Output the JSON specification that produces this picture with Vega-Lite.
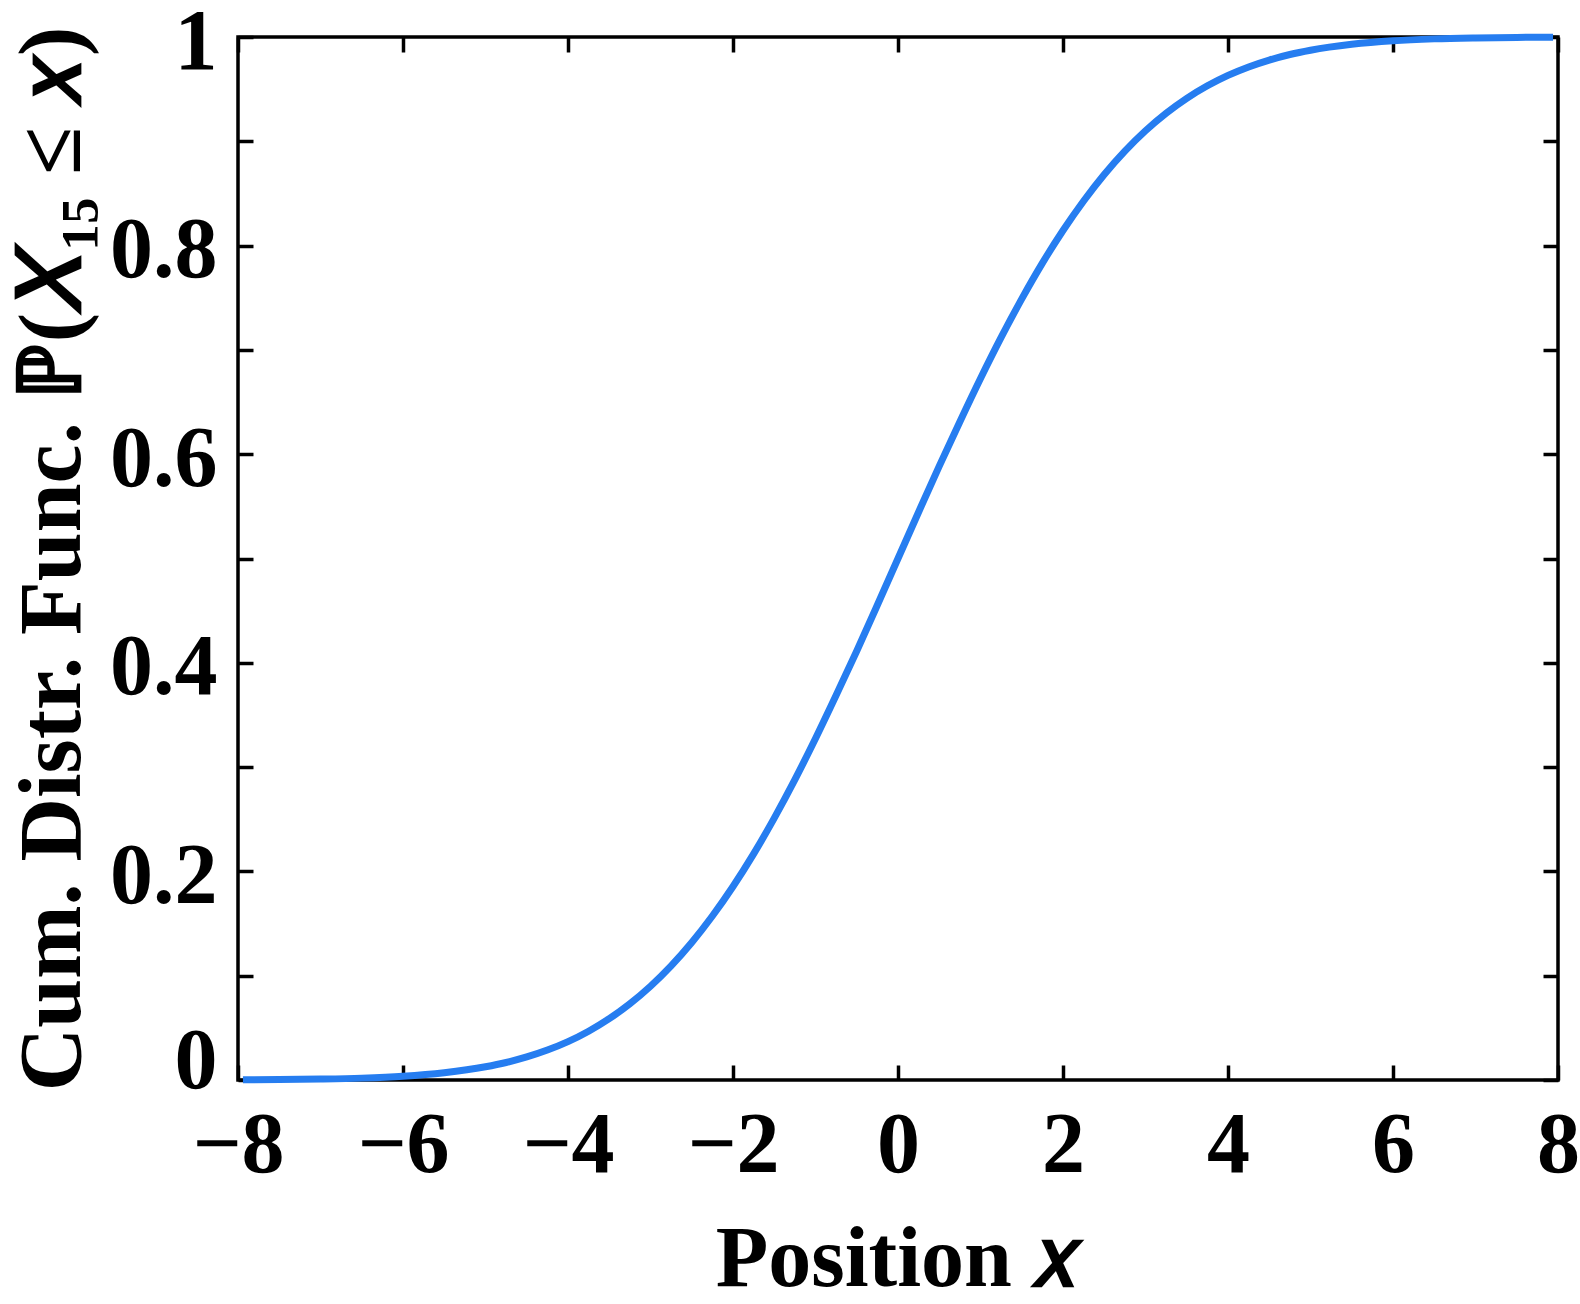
{
  "$schema": "https://vega.github.io/schema/vega-lite/v6.json",
  "width": 1320,
  "height": 1043,
  "autosize": {"type": "none"},
  "padding": {"left": 238, "top": 37, "right": 22, "bottom": 224},
  "background": "white",
  "config": {
    "view": {"stroke": "black", "strokeWidth": 3.5},
    "axis": {
      "domain": false,
      "grid": false,
      "tickColor": "black",
      "tickWidth": 3.5,
      "tickSize": -15,
      "labelColor": "black",
      "titleColor": "black",
      "labelFont": "Liberation Serif",
      "titleFont": "Liberation Serif, DejaVu Serif"
    }
  },
  "data": {
    "values": [
      {"x": -7.94, "p": 0.0002},
      {"x": -7.5, "p": 0.0004},
      {"x": -7, "p": 0.0009},
      {"x": -6.5, "p": 0.0018},
      {"x": -6, "p": 0.0036},
      {"x": -5.5, "p": 0.0070},
      {"x": -5, "p": 0.0127},
      {"x": -4.75, "p": 0.0168},
      {"x": -4.5, "p": 0.0221},
      {"x": -4.25, "p": 0.0287},
      {"x": -4, "p": 0.0368},
      {"x": -3.75, "p": 0.0468},
      {"x": -3.5, "p": 0.0588},
      {"x": -3.25, "p": 0.0731},
      {"x": -3, "p": 0.0899},
      {"x": -2.75, "p": 0.1094},
      {"x": -2.5, "p": 0.1318},
      {"x": -2.25, "p": 0.1572},
      {"x": -2, "p": 0.1855},
      {"x": -1.75, "p": 0.2168},
      {"x": -1.5, "p": 0.2511},
      {"x": -1.25, "p": 0.2880},
      {"x": -1, "p": 0.3274},
      {"x": -0.75, "p": 0.3688},
      {"x": -0.5, "p": 0.4114},
      {"x": -0.25, "p": 0.4554},
      {"x": 0, "p": 0.5},
      {"x": 0.25, "p": 0.5446},
      {"x": 0.5, "p": 0.5886},
      {"x": 0.75, "p": 0.6312},
      {"x": 1, "p": 0.6726},
      {"x": 1.25, "p": 0.7120},
      {"x": 1.5, "p": 0.7489},
      {"x": 1.75, "p": 0.7832},
      {"x": 2, "p": 0.8145},
      {"x": 2.25, "p": 0.8428},
      {"x": 2.5, "p": 0.8682},
      {"x": 2.75, "p": 0.8906},
      {"x": 3, "p": 0.9101},
      {"x": 3.25, "p": 0.9269},
      {"x": 3.5, "p": 0.9412},
      {"x": 3.75, "p": 0.9532},
      {"x": 4, "p": 0.9632},
      {"x": 4.25, "p": 0.9713},
      {"x": 4.5, "p": 0.9779},
      {"x": 4.75, "p": 0.9832},
      {"x": 5, "p": 0.9873},
      {"x": 5.5, "p": 0.9930},
      {"x": 6, "p": 0.9964},
      {"x": 6.5, "p": 0.9982},
      {"x": 7, "p": 0.9991},
      {"x": 7.5, "p": 0.9996},
      {"x": 7.94, "p": 0.9998}
    ]
  },
  "resolve": {"axis": {"x": "independent", "y": "independent"}},
  "layer": [
    {
      "mark": {"type": "line", "strokeOpacity": 0},
      "encoding": {
        "x": {
          "field": "x", "type": "quantitative",
          "scale": {"domain": [-8, 8], "nice": false, "zero": false},
          "axis": {"orient": "top", "values": [-8, -6, -4, -2, 0, 2, 4, 6, 8], "labels": false, "title": null}
        },
        "y": {
          "field": "p", "type": "quantitative",
          "scale": {"domain": [0, 1], "nice": false},
          "axis": {"orient": "right", "values": [0, 0.1, 0.2, 0.3, 0.4, 0.5, 0.6, 0.7, 0.8, 0.9, 1], "labels": false, "title": null}
        }
      }
    },
    {
      "mark": {"type": "line", "color": "#267DF0", "strokeWidth": 7, "interpolate": "monotone", "clip": false},
      "encoding": {
        "x": {
          "field": "x", "type": "quantitative",
          "scale": {"domain": [-8, 8], "nice": false, "zero": false},
          "axis": {
            "orient": "bottom",
            "values": [-8, -6, -4, -2, 0, 2, 4, 6, 8],
            "format": "d",
            "labelFontSize": 86,
            "labelFontWeight": "bold",
            "labelBaseline": "alphabetic",
            "labelPadding": 106,
            "labelFlush": false,
            "labelOverlap": false,
            "title": "Position 𝑥",
            "titleFontSize": 86,
            "titleFontWeight": "bold",
            "titleBaseline": "alphabetic",
            "titleY": 205
          }
        },
        "y": {
          "field": "p", "type": "quantitative",
          "scale": {"domain": [0, 1], "nice": false},
          "axis": {
            "orient": "left",
            "values": [0, 0.1, 0.2, 0.3, 0.4, 0.5, 0.6, 0.7, 0.8, 0.9, 1],
            "labelExpr": "round(datum.value * 10) % 2 == 0 ? format(datum.value, '~g') : ''",
            "labelFontSize": 86,
            "labelFontWeight": "bold",
            "labelAlign": "right",
            "labelBaseline": "middle",
            "labelPadding": 36,
            "labelFlush": false,
            "labelOverlap": false,
            "labelOffset": {"condition": {"test": "datum.value == 0", "value": -19}, "value": 5},
            "title": "Cum. Distr. Func. ℙ(𝑋₁₅ ≤ 𝑥)",
            "titleFontSize": 88,
            "titleFontWeight": "bold",
            "titleBaseline": "alphabetic",
            "titleX": -159
          }
        }
      }
    }
  ]
}
